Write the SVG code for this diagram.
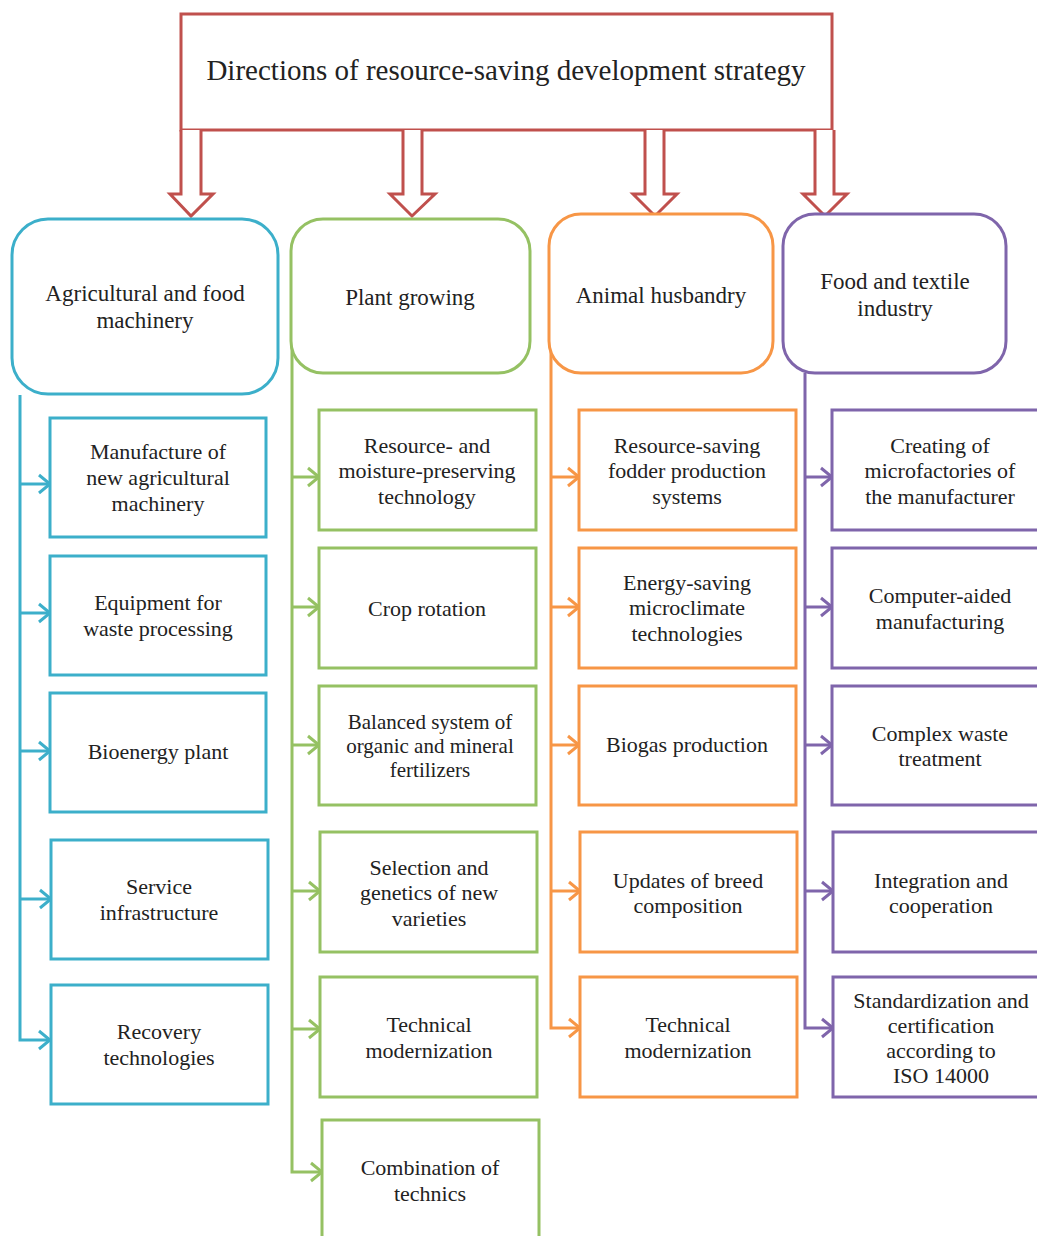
<svg xmlns="http://www.w3.org/2000/svg" width="1037" height="1236" viewBox="0 0 1037 1236">
<style>
text{font-family:"Liberation Serif","Times New Roman",serif;font-size:22px;fill:#222;text-anchor:middle}
.t{font-size:29px}
.k{font-size:23px}
.s{font-size:21px}
.r{fill:#fff;stroke-width:3}
.b{stroke:#3CAFCA}.g{stroke:#95C163}.o{stroke:#F79646}.p{stroke:#7F65AB}.red{stroke:#C0504D}
.c{fill:none;stroke-width:3}
</style>
<defs>
<marker id="mb" markerUnits="userSpaceOnUse" markerWidth="16" markerHeight="24" refX="14" refY="12" orient="auto" viewBox="0 0 16 24"><path d="M3,3 L14,12 L3,21" fill="none" stroke="#3CAFCA" stroke-width="3"/></marker>
<marker id="mg" markerUnits="userSpaceOnUse" markerWidth="16" markerHeight="24" refX="14" refY="12" orient="auto" viewBox="0 0 16 24"><path d="M3,3 L14,12 L3,21" fill="none" stroke="#95C163" stroke-width="3"/></marker>
<marker id="mo" markerUnits="userSpaceOnUse" markerWidth="16" markerHeight="24" refX="14" refY="12" orient="auto" viewBox="0 0 16 24"><path d="M3,3 L14,12 L3,21" fill="none" stroke="#F79646" stroke-width="3"/></marker>
<marker id="mp" markerUnits="userSpaceOnUse" markerWidth="16" markerHeight="24" refX="14" refY="12" orient="auto" viewBox="0 0 16 24"><path d="M3,3 L14,12 L3,21" fill="none" stroke="#7F65AB" stroke-width="3"/></marker>
</defs>

<g id="title">
<rect class="r red" x="181" y="14" width="651" height="116"/>
<text class="t" x="506" y="80">Directions of resource-saving development strategy</text>
</g>

<g id="connectors">
<g class="red" fill="#fff" stroke-width="3">
<polyline points="181,130 181,194 170,194 191,216 213,194 201,194 201,130"/>
<polyline points="403,130 403,194 390,194 412,216 435,194 422,194 422,130"/>
<polyline points="645,130 645,194 633,194 655,216 677,194 664,194 664,130"/>
<polyline points="815,130 815,194 803,194 825,216 847,194 834,194 834,130"/>
</g>
<g class="c b">
<polyline points="20,395 20,1040 50,1040" marker-end="url(#mb)"/>
<line x1="20" y1="484" x2="50" y2="484" marker-end="url(#mb)"/>
<line x1="20" y1="613" x2="50" y2="613" marker-end="url(#mb)"/>
<line x1="20" y1="751" x2="50" y2="751" marker-end="url(#mb)"/>
<line x1="20" y1="899" x2="51" y2="899" marker-end="url(#mb)"/>
</g>
<g class="c g">
<polyline points="292,335 292,1172 322,1172" marker-end="url(#mg)"/>
<line x1="292" y1="477" x2="319" y2="477" marker-end="url(#mg)"/>
<line x1="292" y1="607" x2="319" y2="607" marker-end="url(#mg)"/>
<line x1="292" y1="745" x2="319" y2="745" marker-end="url(#mg)"/>
<line x1="292" y1="891" x2="320" y2="891" marker-end="url(#mg)"/>
<line x1="292" y1="1029" x2="320" y2="1029" marker-end="url(#mg)"/>
</g>
<g class="c o">
<polyline points="551,300 551,1028 580,1028" marker-end="url(#mo)"/>
<line x1="551" y1="477" x2="579" y2="477" marker-end="url(#mo)"/>
<line x1="551" y1="607" x2="579" y2="607" marker-end="url(#mo)"/>
<line x1="551" y1="745" x2="579" y2="745" marker-end="url(#mo)"/>
<line x1="551" y1="891" x2="580" y2="891" marker-end="url(#mo)"/>
</g>
<g class="c p">
<polyline points="805,373 805,1028 833,1028" marker-end="url(#mp)"/>
<line x1="805" y1="477" x2="832" y2="477" marker-end="url(#mp)"/>
<line x1="805" y1="607" x2="832" y2="607" marker-end="url(#mp)"/>
<line x1="805" y1="745" x2="832" y2="745" marker-end="url(#mp)"/>
<line x1="805" y1="891" x2="833" y2="891" marker-end="url(#mp)"/>
</g>
</g>

<g id="cat-agri"><rect class="r b" x="12" y="219" width="266" height="175" rx="36"/>
<text class="k" x="145" y="301">Agricultural and food</text><text class="k" x="145" y="328">machinery</text></g>
<g id="cat-plant"><rect class="r g" x="291" y="219" width="239" height="154" rx="32"/>
<text class="k" x="410" y="305">Plant growing</text></g>
<g id="cat-animal"><rect class="r o" x="549" y="214" width="224" height="159" rx="32"/>
<text class="k" x="661" y="303">Animal husbandry</text></g>
<g id="cat-food"><rect class="r p" x="783" y="214" width="223" height="159" rx="32"/>
<text class="k" x="895" y="289">Food and textile</text><text class="k" x="895" y="316">industry</text></g>

<g id="b1"><rect class="r b" x="50" y="418" width="216" height="119"/>
<text x="158" y="459">Manufacture of</text><text x="158" y="485">new agricultural</text><text x="158" y="511">machinery</text></g>
<g id="b2"><rect class="r b" x="50" y="556" width="216" height="119"/>
<text x="158" y="610">Equipment for</text><text x="158" y="636">waste processing</text></g>
<g id="b3"><rect class="r b" x="50" y="693" width="216" height="119"/>
<text x="158" y="759">Bioenergy plant</text></g>
<g id="b4"><rect class="r b" x="51" y="840" width="217" height="119"/>
<text x="159" y="894">Service</text><text x="159" y="920">infrastructure</text></g>
<g id="b5"><rect class="r b" x="51" y="985" width="217" height="119"/>
<text x="159" y="1039">Recovery</text><text x="159" y="1065">technologies</text></g>

<g id="g1"><rect class="r g" x="319" y="410" width="217" height="120"/>
<text x="427" y="453">Resource- and</text><text x="427" y="478">moisture-preserving</text><text x="427" y="504">technology</text></g>
<g id="g2"><rect class="r g" x="319" y="548" width="217" height="120"/>
<text x="427" y="616">Crop rotation</text></g>
<g id="g3"><rect class="r g" x="319" y="686" width="217" height="119"/>
<text class="s" x="430" y="729">Balanced system of</text><text class="s" x="430" y="753">organic and mineral</text><text class="s" x="430" y="777">fertilizers</text></g>
<g id="g4"><rect class="r g" x="320" y="832" width="217" height="120"/>
<text x="429" y="875">Selection and</text><text x="429" y="900">genetics of new</text><text x="429" y="926">varieties</text></g>
<g id="g5"><rect class="r g" x="320" y="977" width="217" height="120"/>
<text x="429" y="1032">Technical</text><text x="429" y="1058">modernization</text></g>
<g id="g6"><rect class="r g" x="322" y="1120" width="217" height="140"/>
<text x="430" y="1175">Combination of</text><text x="430" y="1201">technics</text></g>

<g id="o1"><rect class="r o" x="579" y="410" width="217" height="120"/>
<text x="687" y="453">Resource-saving</text><text x="687" y="478">fodder production</text><text x="687" y="504">systems</text></g>
<g id="o2"><rect class="r o" x="579" y="548" width="217" height="120"/>
<text x="687" y="590">Energy-saving</text><text x="687" y="615">microclimate</text><text x="687" y="641">technologies</text></g>
<g id="o3"><rect class="r o" x="579" y="686" width="217" height="119"/>
<text x="687" y="752">Biogas production</text></g>
<g id="o4"><rect class="r o" x="580" y="832" width="217" height="120"/>
<text x="688" y="888">Updates of breed</text><text x="688" y="913">composition</text></g>
<g id="o5"><rect class="r o" x="580" y="977" width="217" height="120"/>
<text x="688" y="1032">Technical</text><text x="688" y="1058">modernization</text></g>

<g id="p1"><rect class="r p" x="832" y="410" width="220" height="120"/>
<text x="940" y="453">Creating of</text><text x="940" y="478">microfactories of</text><text x="940" y="504">the manufacturer</text></g>
<g id="p2"><rect class="r p" x="832" y="548" width="220" height="120"/>
<text x="940" y="603">Computer-aided</text><text x="940" y="629">manufacturing</text></g>
<g id="p3"><rect class="r p" x="832" y="686" width="220" height="119"/>
<text x="940" y="741">Complex waste</text><text x="940" y="766">treatment</text></g>
<g id="p4"><rect class="r p" x="833" y="832" width="220" height="120"/>
<text x="941" y="888">Integration and</text><text x="941" y="913">cooperation</text></g>
<g id="p5"><rect class="r p" x="833" y="977" width="220" height="120"/>
<text x="941" y="1008">Standardization and</text><text x="941" y="1033">certification</text><text x="941" y="1058">according to</text><text x="941" y="1083">ISO 14000</text></g>
</svg>
